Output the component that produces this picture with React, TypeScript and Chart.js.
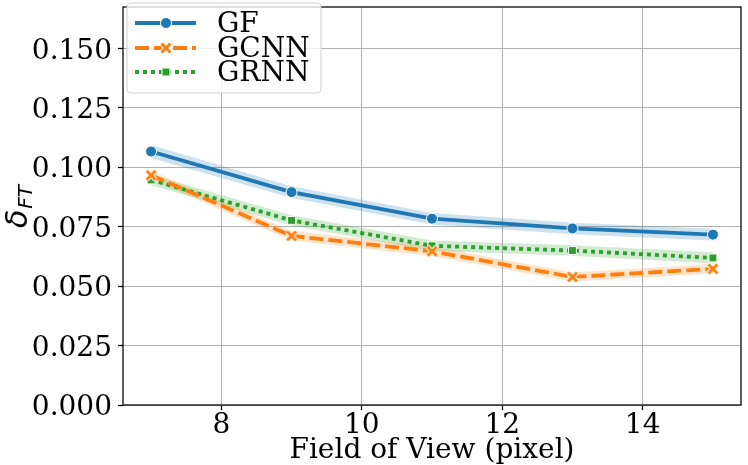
import React, { useEffect, useRef } from "react";
import { Chart, registerables } from "chart.js";

Chart.register(...registerables);

// ---------- data ----------
const fieldOfView = [7, 9, 11, 13, 15];
const seriesNames = ["GF", "GCNN", "GRNN"];
const gfValues = [0.1067, 0.0896, 0.0784, 0.0743, 0.0717];
const gcnnValues = [0.0967, 0.0712, 0.0647, 0.0539, 0.0573];
const grnnValues = [0.0947, 0.0777, 0.067, 0.065, 0.0619];
const gfSpread = [0.0027, 0.0025, 0.0024, 0.0024, 0.0025];
const gcnnSpread = [0.0018, 0.002, 0.002, 0.0019, 0.002];
const grnnSpread = [0.0022, 0.0022, 0.0022, 0.0022, 0.0024];
const xTicks = [8, 10, 12, 14];
const yTicks = [0, 0.025, 0.05, 0.075, 0.1, 0.125, 0.15];
const xLabel = "Field of View (pixel)";

const COLORS = ["#1f77b4", "#ff7f0e", "#2ca02c"];
const BANDS = ["rgba(31,119,180,0.22)", "rgba(255,127,14,0.22)", "rgba(44,160,44,0.22)"];
const DASHES: number[][] = [[], [14, 5], [4, 4]];
const SERIF = "'DejaVu Serif'";
const FONT_SIZE = 28;
const LINE_W = 3.8;

function makeXMarker(color: string): HTMLCanvasElement {
  const c = document.createElement("canvas");
  c.width = 16;
  c.height = 16;
  const g = c.getContext("2d")!;
  g.lineCap = "butt";
  const draw = (w: number, col: string) => {
    g.strokeStyle = col;
    g.lineWidth = w;
    g.beginPath();
    g.moveTo(3.5, 3.5);
    g.lineTo(12.5, 12.5);
    g.moveTo(12.5, 3.5);
    g.lineTo(3.5, 12.5);
    g.stroke();
  };
  draw(5, "#ffffff");
  draw(3, color);
  return c;
}

function drawMarker(ctx: CanvasRenderingContext2D, kind: number, x: number, y: number, color: string, xImg: HTMLCanvasElement) {
  ctx.save();
  ctx.setLineDash([]);
  if (kind === 0) {
    ctx.beginPath();
    ctx.arc(x, y, 5.5, 0, Math.PI * 2);
    ctx.fillStyle = color;
    ctx.fill();
    ctx.lineWidth = 1;
    ctx.strokeStyle = "#fff";
    ctx.stroke();
  } else if (kind === 1) {
    ctx.drawImage(xImg, x - 8, y - 8);
  } else {
    ctx.fillStyle = color;
    ctx.fillRect(x - 4, y - 4, 8, 8);
    ctx.lineWidth = 1;
    ctx.strokeStyle = "#fff";
    ctx.strokeRect(x - 4, y - 4, 8, 8);
  }
  ctx.restore();
}

function label(ctx: CanvasRenderingContext2D, text: string, x: number, y: number, align: CanvasTextAlign) {
  ctx.save();
  ctx.font = `${FONT_SIZE}px ${SERIF}`;
  ctx.fillStyle = "#000";
  ctx.textAlign = align;
  ctx.textBaseline = "alphabetic";
  ctx.fillText(text, x, y);
  ctx.restore();
}

export default function App() {
  const ref = useRef<HTMLCanvasElement | null>(null);

  useEffect(() => {
    const canvas = ref.current;
    if (!canvas) return;
    const xImg = makeXMarker(COLORS[1]);
    const allValues = [gfValues, gcnnValues, grnnValues];
    const allSpreads = [gfSpread, gcnnSpread, grnnSpread];

    const lineSets: any[] = allValues.map((vals, i) => ({
      label: seriesNames[i],
      data: fieldOfView.map((x, j) => ({ x, y: vals[j] })),
      borderColor: COLORS[i],
      backgroundColor: COLORS[i],
      borderWidth: LINE_W,
      borderDash: DASHES[i],
      borderCapStyle: "butt",
      tension: 0,
      fill: false,
      order: 0,
      pointStyle: i === 0 ? "circle" : i === 1 ? xImg : "rect",
      pointRadius: i === 0 ? 5.5 : i === 1 ? 6 : 5.6,
      pointBorderColor: "#ffffff",
      pointBorderWidth: 1,
      pointBackgroundColor: COLORS[i],
    }));

    const bandSets: any[] = [];
    allValues.forEach((vals, i) => {
      const sp = allSpreads[i];
      bandSets.push({
        label: seriesNames[i] + " upper",
        data: fieldOfView.map((x, j) => ({ x, y: vals[j] + sp[j] })),
        borderWidth: 0,
        borderColor: "rgba(0,0,0,0)",
        backgroundColor: BANDS[i],
        pointRadius: 0,
        fill: "+1",
        order: 1,
        tension: 0,
      });
      bandSets.push({
        label: seriesNames[i] + " lower",
        data: fieldOfView.map((x, j) => ({ x, y: vals[j] - sp[j] })),
        borderWidth: 0,
        borderColor: "rgba(0,0,0,0)",
        backgroundColor: BANDS[i],
        pointRadius: 0,
        fill: false,
        order: 1,
        tension: 0,
      });
    });

    const framePlugin = {
      id: "frame",
      afterDatasetsDraw(chart: any) {
        const { ctx, chartArea: a } = chart;
        ctx.save();
        ctx.strokeStyle = "#000";
        ctx.lineWidth = 1.25;
        ctx.setLineDash([]);
        ctx.strokeRect(a.left, a.top, a.right - a.left, a.bottom - a.top);
        ctx.restore();
      },
      afterDraw(chart: any) {
        const { ctx, chartArea: a } = chart;
        const xs = chart.scales.x;
        const ys = chart.scales.y;

        // tick labels
        xTicks.forEach((v) => label(ctx, String(v), xs.getPixelForValue(v), 433, "center"));
        yTicks.forEach((v) => label(ctx, v.toFixed(3), 112, ys.getPixelForValue(v) + 10, "right"));

        // x label
        label(ctx, xLabel, (a.left + a.right) / 2, 458, "center");

        // legend
        ctx.save();
        const bx = 127, by = 3, bw = 194, bh = 90, r = 4;
        ctx.beginPath();
        ctx.moveTo(bx + r, by);
        ctx.arcTo(bx + bw, by, bx + bw, by + bh, r);
        ctx.arcTo(bx + bw, by + bh, bx, by + bh, r);
        ctx.arcTo(bx, by + bh, bx, by, r);
        ctx.arcTo(bx, by, bx + bw, by, r);
        ctx.closePath();
        ctx.fillStyle = "rgba(255,255,255,0.8)";
        ctx.fill();
        ctx.strokeStyle = "#d0d0d0";
        ctx.lineWidth = 1;
        ctx.stroke();
        const rows = [23, 48, 72];
        seriesNames.forEach((name, i) => {
          const y = rows[i];
          ctx.beginPath();
          ctx.setLineDash(DASHES[i]);
          ctx.lineCap = "butt";
          ctx.strokeStyle = COLORS[i];
          ctx.lineWidth = LINE_W;
          ctx.moveTo(135, y);
          ctx.lineTo(196, y);
          ctx.stroke();
          ctx.setLineDash([]);
          drawMarker(ctx, i, 166, y, COLORS[i], xImg);
          label(ctx, name, 217, y + 9, "left");
        });
        ctx.restore();

        // y label: delta_FT
        ctx.save();
        ctx.translate(27, 228);
        ctx.rotate(-Math.PI / 2);
        ctx.fillStyle = "#000";
        ctx.textBaseline = "alphabetic";
        ctx.textAlign = "left";
        ctx.font = "italic 30px 'DejaVu Sans'";
        ctx.fillText("δ", 0, 0);
        const w = ctx.measureText("δ").width;
        ctx.font = "italic 20px 'DejaVu Sans'";
        ctx.fillText("FT", w + 1, 5);
        ctx.restore();
      },
    };

    const chart = new Chart(canvas, {
      type: "line",
      data: { datasets: [...lineSets, ...bandSets] },
      options: {
        responsive: false,
        animation: false,
        events: [],
        layout: { padding: { top: 1, right: 1, left: 0, bottom: 0 } },
        plugins: {
          legend: { display: false },
          tooltip: { enabled: false },
        },
        scales: {
          x: {
            type: "linear",
            min: 6.6,
            max: 15.4,
            afterBuildTicks: (axis: any) => {
              axis.ticks = xTicks.map((v) => ({ value: v }));
            },
            afterFit: (axis: any) => {
              axis.height = 60;
              axis.paddingLeft = 0;
              axis.paddingRight = 0;
              axis.paddingTop = 0;
              axis.paddingBottom = 0;
            },
            border: { display: false },
            grid: {
              color: "#b0b0b0",
              lineWidth: 1,
              drawTicks: true,
              tickLength: 5,
              tickColor: "#000",
              tickWidth: 1.25,
            },
            ticks: { display: false },
            title: { display: false },
          },
          y: {
            type: "linear",
            min: 0,
            max: 0.1675,
            afterBuildTicks: (axis: any) => {
              axis.ticks = yTicks.map((v) => ({ value: v }));
            },
            afterFit: (axis: any) => {
              axis.width = 123;
              axis.paddingLeft = 0;
              axis.paddingRight = 0;
              axis.paddingTop = 0;
              axis.paddingBottom = 0;
            },
            border: { display: false },
            grid: {
              color: "#b0b0b0",
              lineWidth: 1,
              drawTicks: true,
              tickLength: 5,
              tickColor: "#000",
              tickWidth: 1.25,
            },
            ticks: { display: false },
          },
        },
      },
      plugins: [framePlugin],
    } as any);

    return () => chart.destroy();
  }, []);

  return (
    <div style={{ position: "absolute", left: 0, top: 0, width: 748, height: 465, background: "#fff" }}>
      <canvas ref={ref} width={748} height={465} />
    </div>
  );
}
